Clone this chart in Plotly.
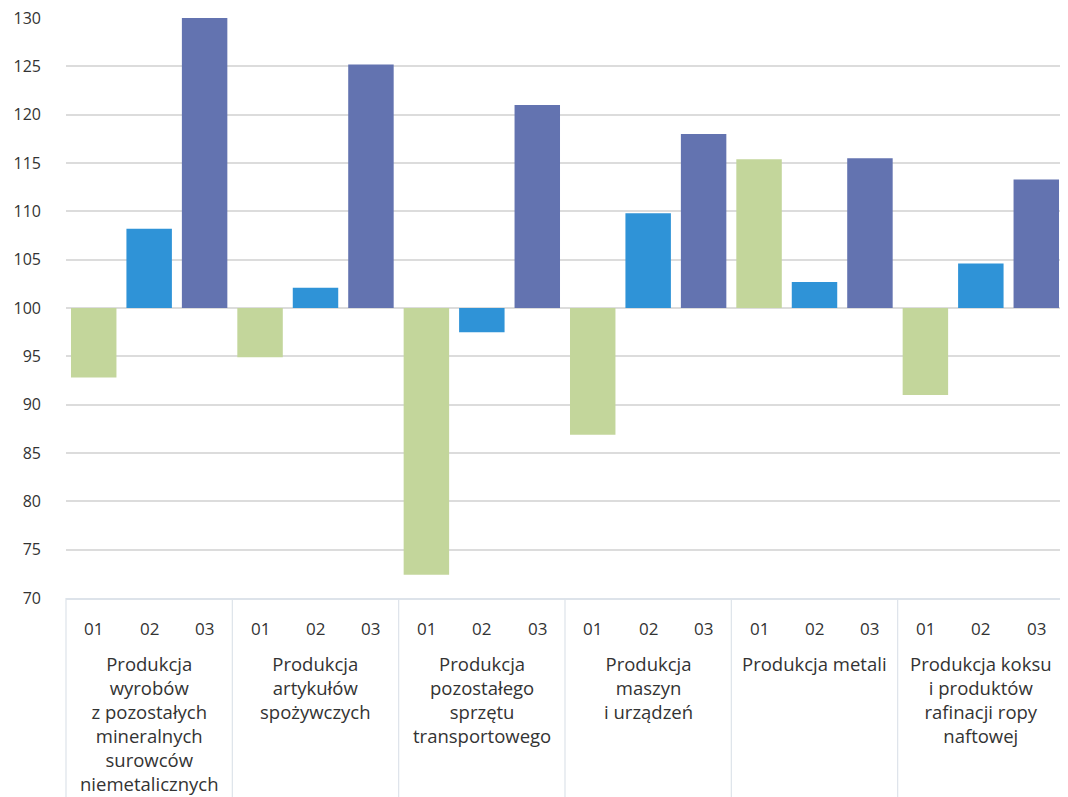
import plotly.graph_objects as go

groups = [
    "Produkcja<br>wyrobów<br>z pozostałych<br>mineralnych<br>surowców<br>niemetalicznych",
    "Produkcja<br>artykułów<br>spożywczych",
    "Produkcja<br>pozostałego<br>sprzętu<br>transportowego",
    "Produkcja<br>maszyn<br>i urządzeń",
    "Produkcja metali",
    "Produkcja koksu<br>i produktów<br>rafinacji ropy<br>naftowej",
]
months = ["01", "02", "03"]
values = [
    [92.8, 108.2, 130.0],
    [94.9, 102.1, 125.2],
    [72.4, 97.5, 121.0],
    [86.9, 109.8, 118.0],
    [115.4, 102.7, 115.5],
    [91.0, 104.6, 113.3],
]
base_value = 100
month_colors = {"01": "#c3d69b", "02": "#2f93d7", "03": "#6373b0"}

xg, xm, yv, cols = [], [], [], []
for g, vals in zip(groups, values):
    for m, v in zip(months, vals):
        xg.append(g)
        xm.append(m)
        yv.append(v - base_value)
        cols.append(month_colors[m])

fig = go.Figure(go.Bar(
    x=[xg, xm], y=yv, base=base_value,
    marker=dict(color=cols, line=dict(width=0)),
    width=0.82,
    hovertemplate="%{customdata}<extra></extra>",
    customdata=[v + base_value for v in yv],
))

FONT = "Open Sans, Noto Sans, sans-serif"
n = len(groups)
m = len(months)
total = n * m

# group divider lines extending down through the label area
shapes = []
for k in range(n + 1):
    shapes.append(dict(type="line", xref="paper", yref="paper",
                       x0=k / n, x1=k / n, y0=0, y1=-0.345,
                       line=dict(color="#dde3ea", width=1.2)))

# category labels (two levels)
annotations = []
for i, lab in enumerate(xm):
    annotations.append(dict(text=lab, xref="paper", yref="paper",
                            x=(i + 0.5) / total, y=0, yshift=-30,
                            xanchor="center", yanchor="middle", showarrow=False,
                            font=dict(family=FONT, size=17, color="#333333")))
for k, g in enumerate(groups):
    annotations.append(dict(text=g, xref="paper", yref="paper",
                            x=(k + 0.5) / n, y=0, yshift=-51,
                            xanchor="center", yanchor="top", align="center",
                            showarrow=False,
                            font=dict(family=FONT, size=18.5, color="#333333")))

fig.update_layout(
    width=1060, height=789,
    margin=dict(l=58, r=4, t=10, b=199),
    paper_bgcolor="white", plot_bgcolor="white",
    font=dict(family=FONT, size=16, color="#333333"),
    showlegend=False,
    shapes=shapes,
    annotations=annotations,
)
fig.update_yaxes(
    range=[70, 130], dtick=5, tick0=70,
    showgrid=True, gridcolor="#dcdcdc", gridwidth=1.6,
    zeroline=False, showline=False, ticks="",
    tickfont=dict(size=16, color="#333333"), ticklabelstandoff=24,
    ticklabeloverflow="allow", automargin=False,
)
fig.update_xaxes(
    type="multicategory",
    showline=True, linecolor="#dde3ea", linewidth=1.5,
    showdividers=False, showticklabels=False,
    ticks="", automargin=False,
)

fig.write_html("out.html")
